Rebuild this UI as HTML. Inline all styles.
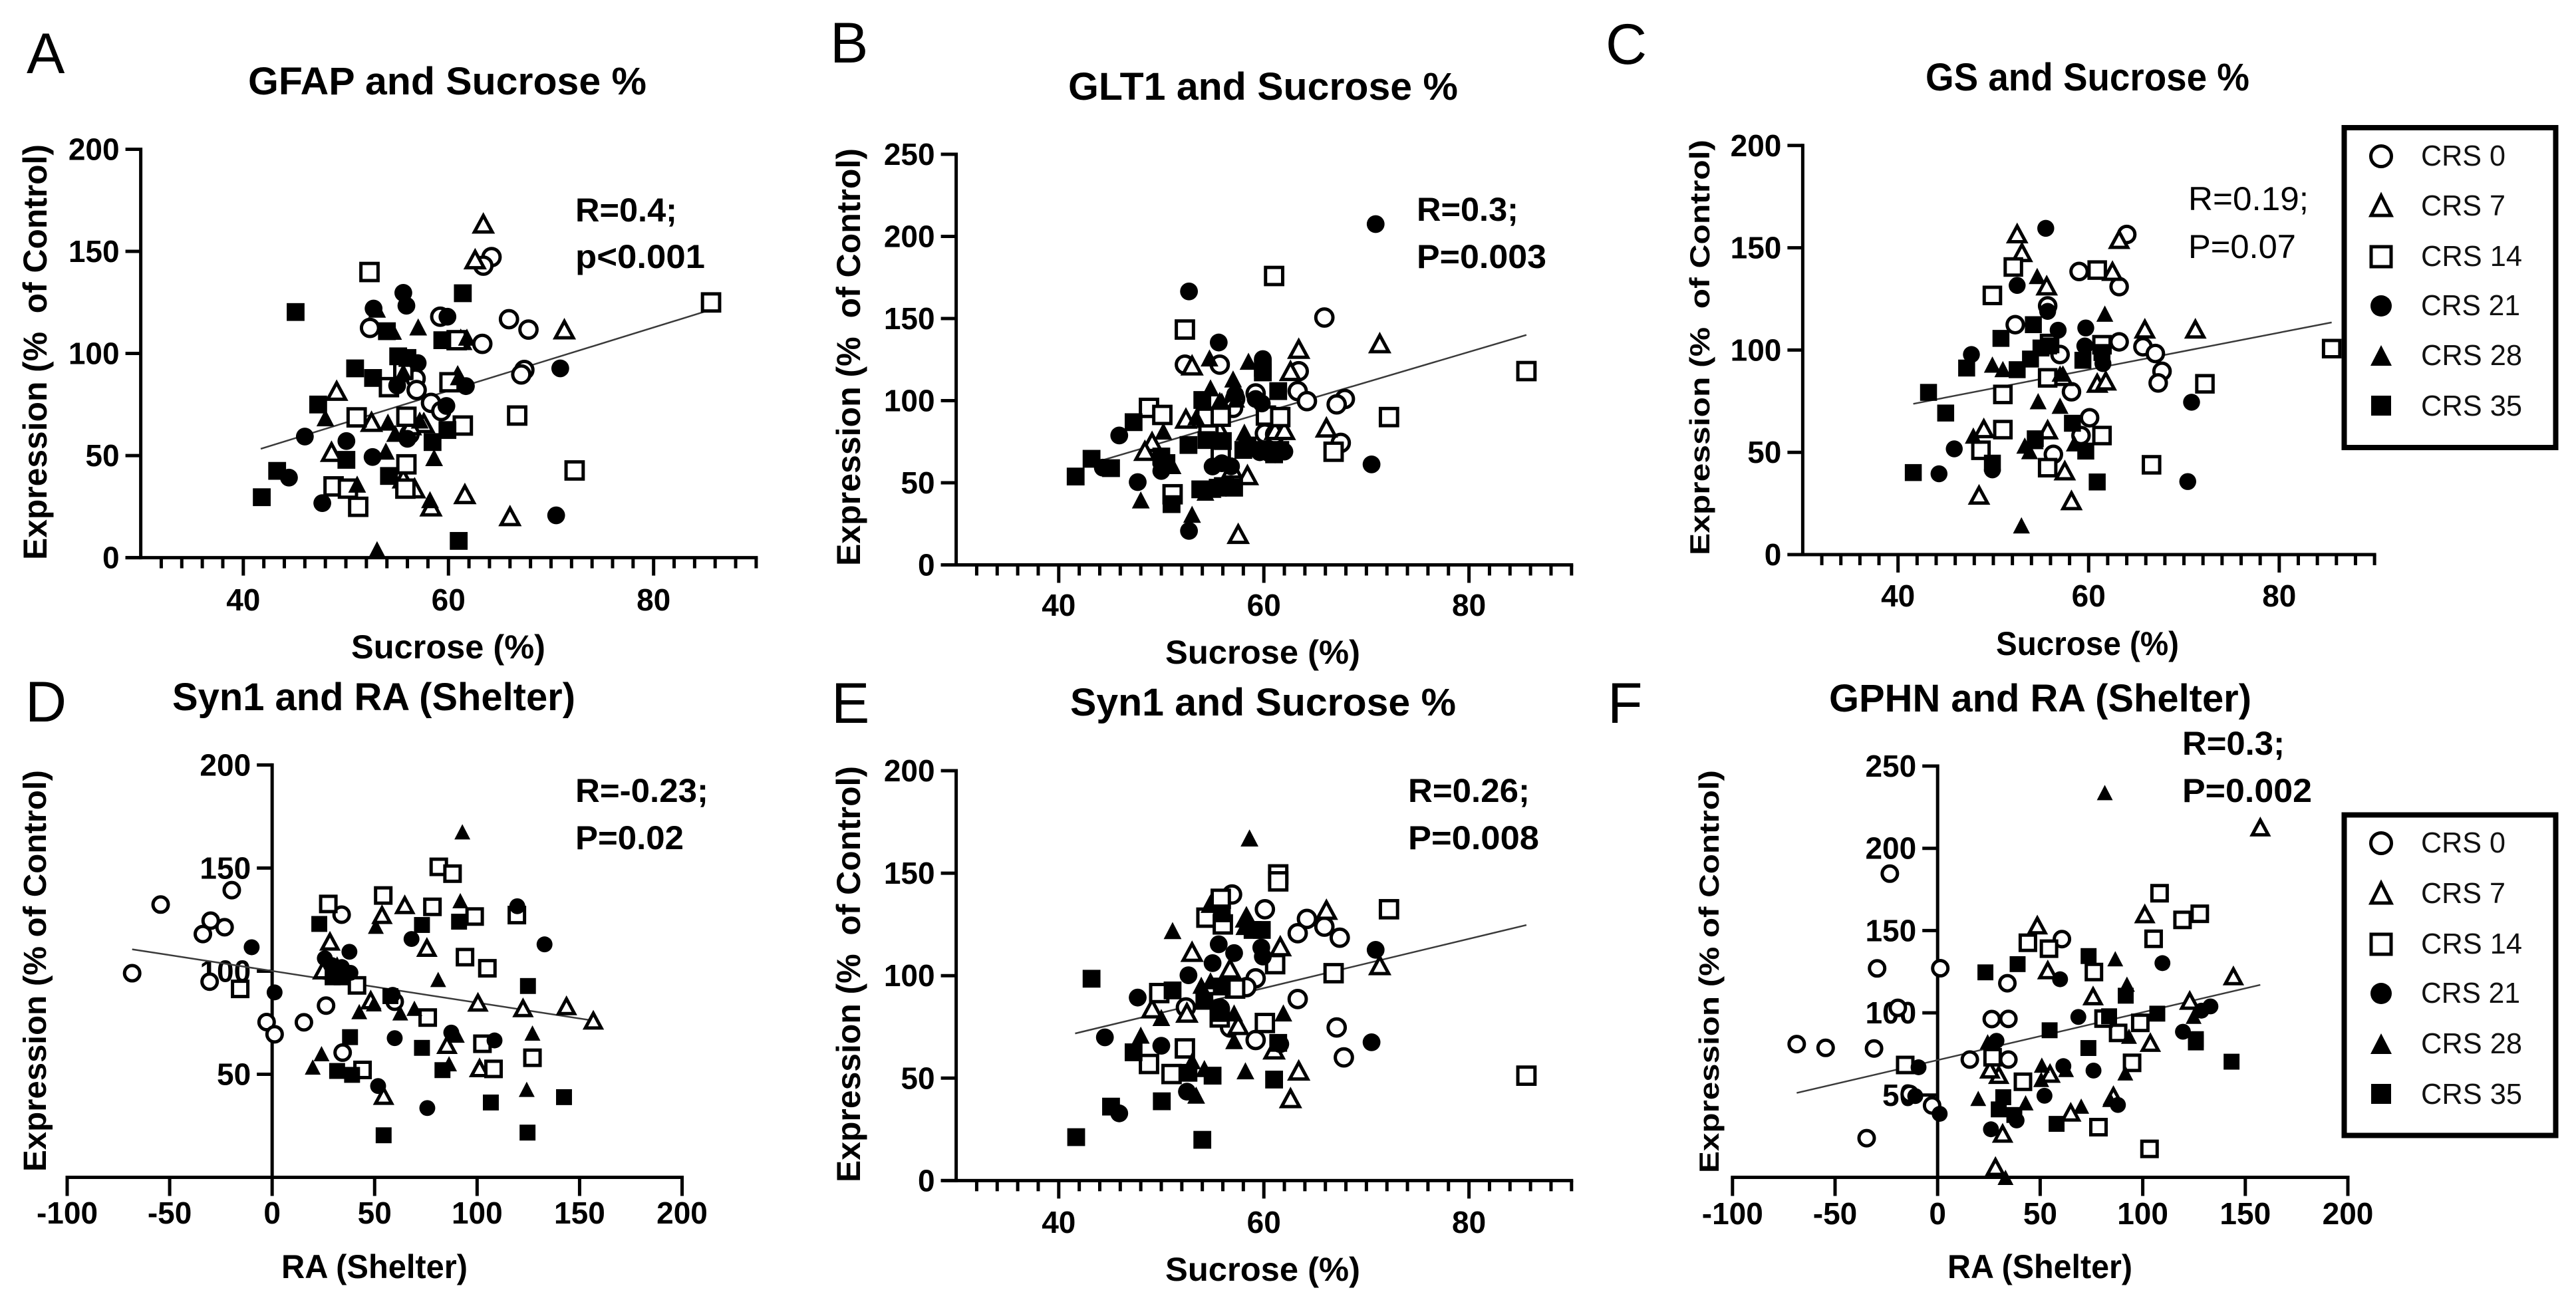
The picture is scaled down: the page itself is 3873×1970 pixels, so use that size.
<!DOCTYPE html>
<html lang="en">
<head>
<meta charset="utf-8">
<title>Expression vs behaviour correlation panels</title>
<style>
html,body{margin:0;padding:0;background:#fff;}
svg{display:block;}
text{font-family:"Liberation Sans",Arial,sans-serif;fill:#000;white-space:pre;}
.t{font-weight:bold;font-size:58px;}
.ax{font-weight:bold;font-size:50px;}
.an{font-weight:bold;font-size:50px;}
.an2{font-size:50px;}
.pl{font-size:86px;}
.lg{font-size:44px;fill:#111;}
.tk{font-weight:bold;font-size:46px;}
</style>
</head>
<body>
<svg id="figure" xmlns="http://www.w3.org/2000/svg" width="3873" height="1970" viewBox="0 0 3873 1970">
<rect x="0" y="0" width="3873" height="1970" fill="#fff"/>

<g id="panel-a">
<text class="pl" x="40" y="110">A</text>
<text class="t" x="373" y="142" textLength="599" lengthAdjust="spacingAndGlyphs">GFAP and Sucrose %</text>
<text class="ax" x="70" y="842" transform="rotate(-90 70 842)" textLength="625" lengthAdjust="spacingAndGlyphs">Expression (%  of Control)</text>
<text class="ax" x="528" y="990" textLength="292" lengthAdjust="spacingAndGlyphs">Sucrose (%)</text>
<text class="an" x="865" y="333" textLength="153" lengthAdjust="spacingAndGlyphs">R=0.4;</text>
<text class="an" x="865" y="403" textLength="195" lengthAdjust="spacingAndGlyphs">p&lt;0.001</text>
</g>

<g id="panel-b">
<text class="pl" x="1248" y="94">B</text>
<text class="t" x="1606" y="150" textLength="586" lengthAdjust="spacingAndGlyphs">GLT1 and Sucrose %</text>
<text class="ax" x="1293" y="851" transform="rotate(-90 1293 851)" textLength="628" lengthAdjust="spacingAndGlyphs">Expression (%  of Control)</text>
<text class="ax" x="1752" y="998" textLength="293" lengthAdjust="spacingAndGlyphs">Sucrose (%)</text>
<text class="an" x="2130" y="332" textLength="153" lengthAdjust="spacingAndGlyphs">R=0.3;</text>
<text class="an" x="2130" y="403" textLength="195" lengthAdjust="spacingAndGlyphs">P=0.003</text>
</g>

<g id="panel-c">
<text class="pl" x="2414" y="96">C</text>
<text class="t" x="2895" y="136" textLength="487" lengthAdjust="spacingAndGlyphs">GS and Sucrose %</text>
<text class="ax" style="font-size:42px" x="2570" y="835" transform="rotate(-90 2570 835)" textLength="625" lengthAdjust="spacingAndGlyphs">Expression (%  of Control)</text>
<text class="ax" x="3001" y="985" textLength="275" lengthAdjust="spacingAndGlyphs">Sucrose (%)</text>
<text class="an2" x="3290" y="316" textLength="181" lengthAdjust="spacingAndGlyphs">R=0.19;</text>
<text class="an2" x="3290" y="388" textLength="162" lengthAdjust="spacingAndGlyphs">P=0.07</text>
</g>

<g id="panel-d">
<text class="pl" x="38" y="1085">D</text>
<text class="t" x="259" y="1068" textLength="606" lengthAdjust="spacingAndGlyphs">Syn1 and RA (Shelter)</text>
<text class="ax" style="font-size:48px" x="69" y="1762" transform="rotate(-90 69 1762)" textLength="604" lengthAdjust="spacingAndGlyphs">Expression (% of Control)</text>
<text class="ax" x="423" y="1922" textLength="280" lengthAdjust="spacingAndGlyphs">RA (Shelter)</text>
<text class="an" x="865" y="1206" textLength="200" lengthAdjust="spacingAndGlyphs">R=-0.23;</text>
<text class="an" x="865" y="1277" textLength="163" lengthAdjust="spacingAndGlyphs">P=0.02</text>
</g>

<g id="panel-e">
<text class="pl" x="1250" y="1087">E</text>
<text class="t" x="1609" y="1076" textLength="580" lengthAdjust="spacingAndGlyphs">Syn1 and Sucrose %</text>
<text class="ax" x="1293" y="1778" transform="rotate(-90 1293 1778)" textLength="626" lengthAdjust="spacingAndGlyphs">Expression (%  of Control)</text>
<text class="ax" x="1752" y="1926" textLength="293" lengthAdjust="spacingAndGlyphs">Sucrose (%)</text>
<text class="an" x="2117" y="1206" textLength="183" lengthAdjust="spacingAndGlyphs">R=0.26;</text>
<text class="an" x="2117" y="1277" textLength="197" lengthAdjust="spacingAndGlyphs">P=0.008</text>
</g>

<g id="panel-f">
<text class="pl" x="2417" y="1087">F</text>
<text class="t" x="2750" y="1070" textLength="635" lengthAdjust="spacingAndGlyphs">GPHN and RA (Shelter)</text>
<text class="ax" style="font-size:42px" x="2584" y="1764" transform="rotate(-90 2584 1764)" textLength="606" lengthAdjust="spacingAndGlyphs">Expression (% of Control)</text>
<text class="ax" x="2928" y="1922" textLength="278" lengthAdjust="spacingAndGlyphs">RA (Shelter)</text>
<text class="an" x="3281" y="1135" textLength="154" lengthAdjust="spacingAndGlyphs">R=0.3;</text>
<text class="an" x="3281" y="1206" textLength="195" lengthAdjust="spacingAndGlyphs">P=0.002</text>
</g>

<g id="legend-top">
<rect x="3524.5" y="192" width="318" height="481" fill="#fff" stroke="#000" stroke-width="8"/>
<circle cx="3580" cy="235" r="15.5" fill="#fff" stroke="#000" stroke-width="5"/>
<text class="lg" x="3640" y="249" textLength="127" lengthAdjust="spacingAndGlyphs">CRS 0</text>
<polygon points="3580,294 3595,324 3565,324" fill="#fff" stroke="#000" stroke-width="5"/>
<text class="lg" x="3640" y="324" textLength="127" lengthAdjust="spacingAndGlyphs">CRS 7</text>
<rect x="3565" y="371" width="30" height="30" fill="#fff" stroke="#000" stroke-width="5"/>
<text class="lg" x="3640" y="400" textLength="152" lengthAdjust="spacingAndGlyphs">CRS 14</text>
<circle cx="3580" cy="460" r="16" fill="#000"/>
<text class="lg" x="3640" y="474" textLength="149" lengthAdjust="spacingAndGlyphs">CRS 21</text>
<polygon points="3580,519 3596,550 3564,550" fill="#000"/>
<text class="lg" x="3640" y="549" textLength="152" lengthAdjust="spacingAndGlyphs">CRS 28</text>
<rect x="3565" y="595" width="30" height="30" fill="#000"/>
<text class="lg" x="3640" y="625" textLength="152" lengthAdjust="spacingAndGlyphs">CRS 35</text>
</g>

<g id="legend-bottom">
<rect x="3524.5" y="1225.5" width="318" height="482" fill="#fff" stroke="#000" stroke-width="8"/>
<circle cx="3580" cy="1268" r="15.5" fill="#fff" stroke="#000" stroke-width="5"/>
<text class="lg" x="3640" y="1282" textLength="127" lengthAdjust="spacingAndGlyphs">CRS 0</text>
<polygon points="3580,1328 3595,1358 3565,1358" fill="#fff" stroke="#000" stroke-width="5"/>
<text class="lg" x="3640" y="1358" textLength="127" lengthAdjust="spacingAndGlyphs">CRS 7</text>
<rect x="3565" y="1405" width="30" height="30" fill="#fff" stroke="#000" stroke-width="5"/>
<text class="lg" x="3640" y="1434" textLength="152" lengthAdjust="spacingAndGlyphs">CRS 14</text>
<circle cx="3580" cy="1494" r="16" fill="#000"/>
<text class="lg" x="3640" y="1508" textLength="149" lengthAdjust="spacingAndGlyphs">CRS 21</text>
<polygon points="3580,1554 3596,1585 3564,1585" fill="#000"/>
<text class="lg" x="3640" y="1584" textLength="152" lengthAdjust="spacingAndGlyphs">CRS 28</text>
<rect x="3565" y="1630" width="30" height="30" fill="#000"/>
<text class="lg" x="3640" y="1660" textLength="152" lengthAdjust="spacingAndGlyphs">CRS 35</text>
</g>
</svg>

<script>
// ---- Tick values ----
const sucroseMajorTicks = [40, 60, 80];
const raTicks = [-100, -50, 0, 50, 100, 150, 200];
const yTicks200 = [0, 50, 100, 150, 200];
const yTicks250 = [0, 50, 100, 150, 200, 250];
const yTicks200NoZero = [50, 100, 150, 200];
const yTicks250NoZero = [50, 100, 150, 200, 250];

// ---- Regression endpoints [x, y] ----
const fitA = [[41.7, 53.3], [85.0, 120.5]];
const fitB = [[44.4, 64], [85.6, 140]];
const fitC = [[41.6, 73.7], [85.5, 113.5]];
const fitD = [[-68.3, 110.6], [156.7, 76]];
const fitE = [[41.6, 71.8], [85.6, 124.7]];
const fitF = [[-68.7, 51.3], [157.3, 117]];

// ---- Panel A: GFAP vs sucrose ----
const aCrs0 = [[64.2,147.2],[63.4,143],[59.2,118],[52.35,112.5],[65.9,116.8],[67.8,111.7],[63.3,104.7],[67.4,91.9],[67.1,89.7],[56.8,87.7],[56.9,82.1],[58.3,75.8],[59.3,71.8],[55.6,90.8],[56.2,60.4]];
const aCrs7 = [[63.4,163.5],[62.6,146],[71.3,111.7],[61.2,106.5],[49.1,81.6],[52.5,66.4],[57.6,65.8],[56.3,64.7],[48.6,51.7],[55.6,38.7],[56.7,33.8],[58.3,25],[61.6,31],[66,20.2],[60.9,88.6]];
const aCrs14 = [[52.3,139.9],[60.8,106.5],[60.1,85.9],[54.2,83.5],[55.6,92],[51.05,68.7],[55.9,69],[61.4,64.7],[66.7,69.6],[55.9,45.7],[48.8,34.9],[50.2,33.8],[51.2,24.9],[55.8,33.8],[72.3,42.7],[85.6,125]];
const aCrs21 = [[55.6,129.7],[55.9,123.4],[52.7,122],[59.9,118],[57,95.3],[70.9,92.7],[61.7,84],[55,84.3],[59.8,74.3],[46,59.3],[50.05,57.1],[56,58.2],[52.6,49.3],[44.45,39.2],[47.7,26.7],[70.5,20.7]];
const aCrs28 = [[53.04,121.7],[54.6,110.9],[57.05,113],[61.8,108],[55.6,91],[61,88.6],[48,68.5],[54.1,66.4],[57.2,67.4],[54.8,60.9],[53.9,52.2],[58.6,49],[51.1,36],[58.2,28.4],[53.04,3.9]];
const aCrs35 = [[61.4,129.5],[45.1,120.3],[54,110.9],[59.4,106.5],[55.1,98.6],[56,97.8],[50.9,92.7],[52.65,88],[47.3,75],[59.9,62.5],[58.45,56.6],[50.05,47.9],[43.3,42.5],[54.2,40],[41.8,29.6],[61,8.2]];

// ---- Panel B: GLT1 vs sucrose ----
const bCrs0 = [[55.7,121.9],[52.3,121.9],[65.9,150.6],[63.4,117.9],[63.3,105.8],[64.2,99.7],[67.9,101],[67.1,97.7],[59.2,104.4],[67.5,74.3],[60.1,80],[61.1,79.4],[57.2,101],[57,95.6]];
const bCrs7 = [[63.4,131.4],[53,121.3],[62.6,117.9],[71.3,134.8],[66.1,83.5],[49.1,74.7],[48.4,69.3],[52.4,88.9],[55.7,98.3],[61.1,82],[62,82],[56.9,58.5],[58.4,54.5],[57.5,18.7],[55.7,82]];
const bCrs14 = [[61,175.9],[52.3,143.3],[48.8,95.6],[50.1,91.3],[54.4,89.6],[55.8,90.2],[60.2,90.9],[61.6,90],[72.2,90],[66.8,68.9],[51.1,43],[55.8,67.3],[54.6,79.4],[85.6,118]];
const bCrs21 = [[52.7,166.5],[55.6,135.4],[59.9,125.3],[59.2,101],[59.8,98.3],[57.2,103.7],[45.9,78.8],[50,57.2],[50,62],[47.7,50.4],[55,59.9],[55.9,61.9],[56.8,60],[70.5,61.2],[52.7,20.7],[59.6,68.6],[60.5,68],[61.1,67.3],[62,69],[44.3,59.2],[70.9,207.5]];
const bCrs28 = [[54.7,126],[58.5,124],[57,113.2],[54.8,107.8],[53.4,90.2],[50.2,81.5],[58.1,80.8],[55.9,99.7],[51.1,60.5],[48,39.6],[54.3,44.3],[55,46],[53,30.8],[57,48.4],[57.3,101]];
const bCrs35 = [[59.9,117.2],[59.9,120],[61.4,105.8],[54,100.4],[47.3,86.9],[52.65,73],[54.4,76],[56,75.4],[58.4,72.7],[58,70],[60,70],[61,67.3],[61.6,70],[43.2,64.6],[45.1,58.9],[41.65,53.8],[50,66],[50.5,62],[51,37],[53.8,46],[55.5,47],[56,48],[57.1,47]];

// ---- Panel C: GS vs sucrose ----
const cCrs0 = [[64,156.5],[59,138.4],[63.2,131],[55.7,121.6],[52.3,112.4],[63.2,104],[65.7,101.6],[67,98.3],[67.7,89.6],[67.3,83.9],[57,97.8],[58.2,79.6],[60.1,66.9],[59.2,58.2],[56.3,49]];
const cCrs7 = [[52.5,156.8],[53,147.6],[63.2,154],[62.5,138.4],[55.6,131.3],[65.9,110.2],[71.2,110.2],[60.9,83.7],[61.8,84.8],[49,61.5],[55.7,60.9],[57.5,40.9],[48.5,29],[58.2,26.3],[57.3,87]];
const cCrs14 = [[52.1,140.6],[49.9,126.7],[60.9,139.1],[61.4,102.6],[55.9,103.2],[55.7,86.4],[51,78.3],[72.2,83.5],[51,61.1],[48.7,51],[61.4,58.2],[55.7,42.5],[66.6,43.9],[85.5,100.7]];
const cCrs21 = [[55.5,159.5],[52.5,131.6],[55.7,118.9],[56.8,109.7],[59.7,110.8],[47.7,97.8],[59.6,102],[61.5,93.4],[70.8,74.5],[45.9,51.7],[49.9,41.4],[44.3,39.5],[70.4,35.7]];
const cCrs28 = [[54.6,136.2],[61.7,117.8],[49.9,92.9],[51,90.7],[57,88.5],[54.7,75],[57,72.8],[47.9,58.2],[58.5,54.4],[53.3,53.3],[53.8,50.6],[52.95,14.3],[54.4,55.5]];
const cCrs35 = [[54.2,112.4],[50.8,105.7],[55,101],[55.8,102],[53.9,95.6],[47.2,91.2],[52.5,90.4],[59.4,95],[61.4,98.8],[43.2,79.3],[45,69.2],[58.3,64.2],[54.4,56.6],[49.9,44.7],[59.7,50.6],[41.6,40.1],[60.9,35.5]];

// ---- Panel D: Syn1 vs RA ----
const dCrs0 = [[-19.7,139.3],[-54.4,132.3],[-30,124.5],[-23.2,121.3],[-33.8,118],[-68.3,99],[-30.5,94.9],[33.9,127.4],[26.3,83.3],[15.5,75.2],[-2.7,75.3],[1.2,69.4],[34.4,60.5],[59.8,85.2]];
const dCrs7 = [[28.2,114.3],[53.6,127.2],[64.7,132],[75.5,111.3],[24.7,100.3],[100.4,84.7],[122.4,82],[143.6,83],[156.7,76],[48.1,85.8],[85.3,64.2],[101.2,52.9],[54.4,39.5]];
const dCrs14 = [[27.4,132.6],[54.2,136.7],[81.3,150.6],[88,147.3],[78.2,131.2],[98.8,126.5],[119.4,127.2],[94.1,106.8],[105,101.4],[-15.6,91.4],[41.4,93.1],[75.9,77.5],[102.6,64.8],[44.1,52.1],[108,52.6],[127,58]];
const dCrs21 = [[-10,111.6],[37.7,109.4],[68,115.6],[119.6,131.5],[1.2,89.7],[25.7,106.2],[38.2,99.2],[29,103],[34,102],[58.8,88.5],[59.8,67.5],[87.4,70.2],[108.5,66.4],[51.7,44.3],[75.7,33.6],[132.9,113]];
const dCrs28 = [[92.8,167.6],[91.8,134.2],[50.6,121.8],[81,96],[31.7,103.5],[49.6,84.2],[42.5,80.4],[62.5,79.8],[69.4,82],[90.1,69],[127,70],[24.1,60],[19.8,53.5],[86.3,55.1],[124.2,42.7]];
const dCrs35 = [[23,122.9],[73.1,122.4],[91.2,124],[29.5,97],[33.9,97],[124.8,92.8],[57.7,87.9],[38,68],[73.1,62.8],[83.1,52],[31.7,51.6],[39,49.7],[106.7,36.3],[142.4,38.9],[54.4,20.4],[124.6,21.7]];

// ---- Panel E: Syn1 vs sucrose ----
const eCrs0 = [[56.9,139.6],[60.1,132.4],[64.2,127.7],[65.9,123.9],[63.3,120.7],[67.4,118.5],[59.2,98.7],[58.3,94.4],[63.3,88.6],[52.4,84.5],[56.7,74.7],[67.1,74.7],[59.2,68.6],[67.8,60.1],[55.7,84]];
const eCrs7 = [[66.1,132],[58.3,128.3],[61.6,114.2],[53,111.5],[56.7,103.4],[71.3,105],[49.1,83.9],[52.5,81.8],[57.5,75.8],[61,63.9],[63.4,53.6],[62.6,40.1],[54.9,135]];
const eCrs14 = [[61.4,149.4],[61.4,146],[55.8,137.5],[54.4,128.3],[56,125],[61.1,105.6],[66.8,101.2],[49.8,91.5],[57.2,93.7],[60.1,76.9],[52.3,64.5],[48.8,56.9],[51,52],[72.2,132.4],[85.6,51.2],[55.7,79.6]];
const eCrs21 = [[55.6,115.3],[57.1,111],[59.75,113.7],[59.9,109.3],[55,106.1],[52.65,100.2],[47.7,89.3],[70.9,112.6],[55.8,83.4],[50,65.8],[44.5,69.9],[61.6,66.6],[70.5,67.5],[52.5,43.4],[45.9,32.8]];
const eCrs28 = [[58.6,167.2],[51.1,122],[54.7,134.8],[58.4,128],[58.1,124],[53.9,95.3],[54.8,97.5],[61.9,81.8],[57.1,81.8],[50,79.6],[48,71],[57.1,68.3],[53,58.5],[54.2,54.7],[58.2,53.6],[53.4,41.7]];
const eCrs35 = [[43.2,98.5],[59.8,122.3],[55.9,130.4],[58.9,122.3],[51.1,92.8],[55.9,94.7],[54.2,87.7],[55.7,81.8],[61.4,67.2],[47.3,62.6],[55,51.2],[52.65,52.6],[61,49.3],[45.1,36.1],[50.05,38.7],[41.7,21.2],[54,19.9]];

// ---- Panel F: GPHN vs RA ----
const fCrs0 = [[1.3,127.1],[34,118],[60.6,144.8],[26.4,96.2],[34.5,96.3],[15.7,71.6],[34.5,71.6],[-2.7,43.7],[-13.6,50.7],[-23.3,184.6],[-29.5,127],[-68.7,81],[-54.6,78.7],[-31,78.3],[-19.4,103],[-34.6,23.8]];
const fCrs7 = [[48.6,153.1],[101,159.9],[53.7,125.8],[75.8,110],[122.9,107.3],[103.7,81.7],[144.2,122.2],[29.8,62.2],[25.5,65.5],[54.8,62.9],[85.7,49.4],[64.9,39.3],[31.7,26.5],[28.2,6.3],[157.3,212.7]];
const fCrs14 = [[108.2,172.7],[119.4,156.5],[127.8,160.2],[105.3,145],[44,142.6],[54.3,139],[76.2,124.8],[98.8,93.9],[88,87.8],[80.9,96.5],[26.8,73],[94.8,69.6],[41.6,58.1],[78.4,30.5],[103.3,17.3],[-15.8,68.3]];
const fCrs21 = [[109.6,130.2],[59.7,120.4],[68.6,97.5],[133,103.9],[128.6,101.3],[119.6,88.5],[28.7,83],[-9.3,66.9],[61.3,67.6],[76,64.9],[-10.9,49.4],[52.1,49.6],[87.9,44],[1,38.6],[38.5,34.6],[26,29.2]];
const fCrs28 = [[86.6,132.9],[92.3,117.4],[124.8,97.9],[24.4,82.4],[93.3,85.8],[50.8,68.2],[62.6,65.6],[50.5,59.5],[91.5,63.5],[19.8,48],[42.9,45.3],[70,43.3],[84.1,47.4],[33.1,0],[81.5,233.9]];
const fCrs35 = [[73.6,134.5],[39,129.6],[23.3,124.6],[91.7,110.4],[83.6,97.9],[54.6,89.4],[107.1,99.5],[73.5,78.6],[125.9,84],[125.9,82],[143.3,70.3],[32,48.7],[29.8,41.3],[37.4,37.9],[58,32.5]];

// ---- Rendering ----
const SVG_NS = 'http://www.w3.org/2000/svg';
const seriesKinds = ['open-circle', 'open-triangle', 'open-square', 'filled-circle', 'filled-triangle', 'filled-square'];
const seriesNames = ['crs-0', 'crs-7', 'crs-14', 'crs-21', 'crs-28', 'crs-35'];

function make(tag, attrs) {
  const el = document.createElementNS(SVG_NS, tag);
  for (const k in attrs) el.setAttribute(k, attrs[k]);
  return el;
}

function linearScale(d0, d1, r0, r1) {
  return function (v) { return r0 + (v - d0) * (r1 - r0) / (d1 - d0); };
}

function drawMarker(parent, kind, cx, cy, k) {
  let el;
  if (kind === 'open-circle') {
    el = make('circle', { cx: cx, cy: cy, r: 12.5 * k, fill: '#fff', stroke: '#000', 'stroke-width': 5 });
  } else if (kind === 'filled-circle') {
    el = make('circle', { cx: cx, cy: cy, r: 13 * k, fill: '#000' });
  } else if (kind === 'open-square') {
    const s = 25 * k;
    el = make('rect', { x: cx - s / 2, y: cy - s / 2, width: s, height: s, fill: '#fff', stroke: '#000', 'stroke-width': 5 });
  } else if (kind === 'filled-square') {
    const s = 26 * k;
    el = make('rect', { x: cx - s / 2, y: cy - s / 2, width: s, height: s, fill: '#000' });
  } else if (kind === 'open-triangle') {
    const w = 13 * k, h = 12 * k;
    el = make('polygon', { points: cx + ',' + (cy - h) + ' ' + (cx + w) + ',' + (cy + h) + ' ' + (cx - w) + ',' + (cy + h), fill: '#fff', stroke: '#000', 'stroke-width': 5 });
  } else {
    const w = 13 * k, h = 12.5 * k;
    el = make('polygon', { points: cx + ',' + (cy - h) + ' ' + (cx + w) + ',' + (cy + h) + ' ' + (cx - w) + ',' + (cy + h), fill: '#000' });
  }
  parent.appendChild(el);
  return el;
}

function drawAxisLine(parent, x1, y1, x2, y2, w) {
  const l = make('line', { x1: x1, y1: y1, x2: x2, y2: y2, stroke: '#000', 'stroke-width': w });
  parent.appendChild(l);
  return l;
}

function drawTickLabel(parent, x, y, anchor, str) {
  const t = make('text', { x: x, y: y, 'text-anchor': anchor, class: 'tk' });
  t.textContent = str;
  parent.appendChild(t);
  
  
}

function drawPanel(p) {
  const root = document.getElementById(p.id);
  const sx = linearScale(p.xd[0], p.xd[1], p.xr[0], p.xr[1]);
  const sy = linearScale(p.yd[0], p.yd[1], p.yr[0], p.yr[1]);
  const y0 = sy(0);
  const axisX = sx(p.yAxisAt);

  const axes = make('g', {});
  
  
  root.insertBefore(axes, root.firstChild);

  // y axis
  const yLine = drawAxisLine(axes, axisX, sy(p.yd[1]) - 2.5, axisX, y0 + 2.5, p.axisW);
  
  
  p.yTicks.forEach(function (v) {
    const tick = drawAxisLine(axes, axisX - 23, sy(v), axisX, sy(v), p.axisW);
    
    
    drawTickLabel(axes, axisX - 32, sy(v) + 16, 'end', String(v));
  });

  // x axis
  const xLine = drawAxisLine(axes, p.sucrose ? axisX - 23 : sx(p.xd[0]) - 2.5, y0, sx(p.xd[1]) + 2.5, y0, p.axisW);
  
  
  if (p.sucrose) {
    for (let v = p.xd[0] + 2; v <= p.xd[1]; v += 2) {
      const isMajor = sucroseMajorTicks.indexOf(v) >= 0;
      const tick = drawAxisLine(axes, sx(v), y0, sx(v), y0 + (isMajor ? 27 : 16), p.axisW);
      
      
    }
    sucroseMajorTicks.forEach(function (v) {
      drawTickLabel(axes, sx(v), p.xLabelY, 'middle', String(v));
    });
  } else {
    raTicks.forEach(function (v) {
      const tick = drawAxisLine(axes, sx(v), y0, sx(v), y0 + 28, p.axisW);
      
      
      drawTickLabel(axes, sx(v), p.xLabelY, 'middle', String(v));
    });
  }

  // regression line
  const fit = make('line', { x1: sx(p.fit[0][0]), y1: sy(p.fit[0][1]), x2: sx(p.fit[1][0]), y2: sy(p.fit[1][1]), stroke: '#3a3a3a', 'stroke-width': 2.5 });
  root.appendChild(fit);
  
  

  // points
  p.series.forEach(function (pts, i) {
    const g = make('g', {});
    
    
    root.appendChild(g);
    pts.forEach(function (pt) {
      const m = drawMarker(g, seriesKinds[i], sx(pt[0]), sy(pt[1]), p.k);
      
      
    });
  });
}

drawPanel({ id: 'panel-a', key: 'panel-a', sucrose: true, xd: [30, 90], xr: [211.6, 1136.9], yd: [0, 200], yr: [838.6, 224.5], yAxisAt: 30, yTicks: yTicks200, xLabelY: 918, axisW: 5, k: 1.03, fit: fitA, series: [aCrs0, aCrs7, aCrs14, aCrs21, aCrs28, aCrs35] });
drawPanel({ id: 'panel-b', key: 'panel-b', sucrose: true, xd: [30, 90], xr: [1437.6, 2362.8], yd: [0, 250], yr: [849.5, 232], yAxisAt: 30, yTicks: yTicks250, xLabelY: 926, axisW: 5, k: 1.03, fit: fitB, series: [bCrs0, bCrs7, bCrs14, bCrs21, bCrs28, bCrs35] });
drawPanel({ id: 'panel-c', key: 'panel-c', sucrose: true, xd: [30, 90], xr: [2710.4, 3570.1], yd: [0, 200], yr: [834, 218.8], yAxisAt: 30, yTicks: yTicks200, xLabelY: 912, axisW: 5, k: 0.98, fit: fitC, series: [cCrs0, cCrs7, cCrs14, cCrs21, cCrs28, cCrs35] });
drawPanel({ id: 'panel-d', key: 'panel-d', sucrose: false, xd: [-100, 200], xr: [101, 1025.5], yd: [0, 200], yr: [1770.5, 1150.4], yAxisAt: 0, yTicks: yTicks200NoZero, xLabelY: 1840, axisW: 5, k: 0.92, fit: fitD, series: [dCrs0, dCrs7, dCrs14, dCrs21, dCrs28, dCrs35] });
drawPanel({ id: 'panel-e', key: 'panel-e', sucrose: true, xd: [30, 90], xr: [1437.6, 2362.8], yd: [0, 200], yr: [1775.4, 1159], yAxisAt: 30, yTicks: yTicks200, xLabelY: 1854, axisW: 5, k: 1.03, fit: fitE, series: [eCrs0, eCrs7, eCrs14, eCrs21, eCrs28, eCrs35] });
drawPanel({ id: 'panel-f', key: 'panel-f', sucrose: false, xd: [-100, 200], xr: [2604.8, 3530], yd: [0, 250], yr: [1770.5, 1152], yAxisAt: 0, yTicks: yTicks250NoZero, xLabelY: 1841, axisW: 5, k: 0.92, fit: fitF, series: [fCrs0, fCrs7, fCrs14, fCrs21, fCrs28, fCrs35] });
</script>
</body>
</html>
